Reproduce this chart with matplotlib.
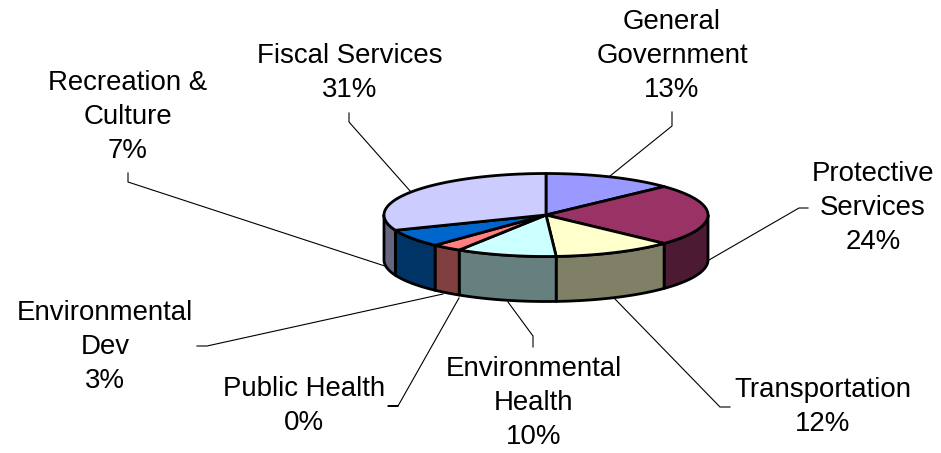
#!/usr/bin/python3
import numpy as np
import matplotlib
matplotlib.use('Agg')
import matplotlib.pyplot as plt
from matplotlib.patches import Polygon

names = ['General\nGovernment', 'Protective\nServices', 'Transportation',
         'Environmental\nHealth', 'Public Health', 'Environmental\nDev',
         'Recreation &\nCulture', 'Fiscal Services']
values = [13, 24, 12, 10, 0, 3, 7, 31]
top_colors = ['#9999FF', '#993366', '#FFFFCC', '#CCFFFF', '#660066', '#FF8080', '#0066CC', '#CCCCFF']
side_colors = ['#4D4D80', '#4D1A33', '#808066', '#668080', '#330033', '#804040', '#003366', '#666680']

# label centres and leader lines, in pixels of the picture
label_xy = [(672, 56), (873, 208), (823, 407), (534, 403), (304, 406), (105, 347), (128, 117), (350, 73)]
leaders = [[(672, 112), (672, 126), (610, 176)],
           [(808, 208), (799, 208), (709, 260)],
           [(730, 407), (720, 407), (615, 299)],
           [(533, 347), (533, 336), (508, 302)],
           [(398, 406), (388, 406), (398, 406), (459, 298)],
           [(197, 346), (207, 346), (443, 294)],
           [(128, 173), (128, 182), (397, 270)],
           [(349, 113), (349, 122), (411, 192)]]

cx, cy, rx, ry, depth = 546, 215, 162, 41.5, 45


def arc(a0, a1):
    # angles in degrees clockwise from twelve o'clock
    t = np.radians(np.linspace(a0, a1, 80))
    return np.column_stack([cx + rx * np.sin(t), cy - ry * np.cos(t)])


def main():
    plt.rcParams['font.family'] = ['Liberation Sans', 'DejaVu Sans']
    fig = plt.figure(figsize=(9.41, 4.53), dpi=100)
    ax = fig.add_axes([0, 0, 1, 1])
    ax.set_xlim(0, 941)
    ax.set_ylim(453, 0)
    ax.axis('off')

    for pts in leaders:
        ax.plot(*zip(*pts), color='black', lw=0.8, zorder=1)

    edges = np.cumsum([0] + values) * 3.6

    # outer wall, only the front half of the ellipse shows
    for i in range(len(values)):
        a0, a1 = max(edges[i], 90), min(edges[i + 1], 270)
        if a1 <= a0:
            continue
        p = arc(a0, a1)
        wall = np.vstack([p, (p + [0, depth])[::-1]])
        ax.add_patch(Polygon(wall, closed=True, fc=side_colors[i], ec='black', lw=2, joinstyle='round', zorder=2))

    for i in range(len(values)):
        if values[i] == 0:
            continue
        p = np.vstack([[cx, cy], arc(edges[i], edges[i + 1])])
        ax.add_patch(Polygon(p, closed=True, fc=top_colors[i], ec='black', lw=2, joinstyle='round', zorder=3))

    for name, v, xy in zip(names, values, label_xy):
        ax.text(xy[0], xy[1], '%s\n%d%%' % (name, v), ha='center', va='center',
                fontsize=19.9, color='black', linespacing=1.38)

    fig.savefig('out.png', dpi=100, facecolor='white')


if __name__ == "__main__":
    main()
